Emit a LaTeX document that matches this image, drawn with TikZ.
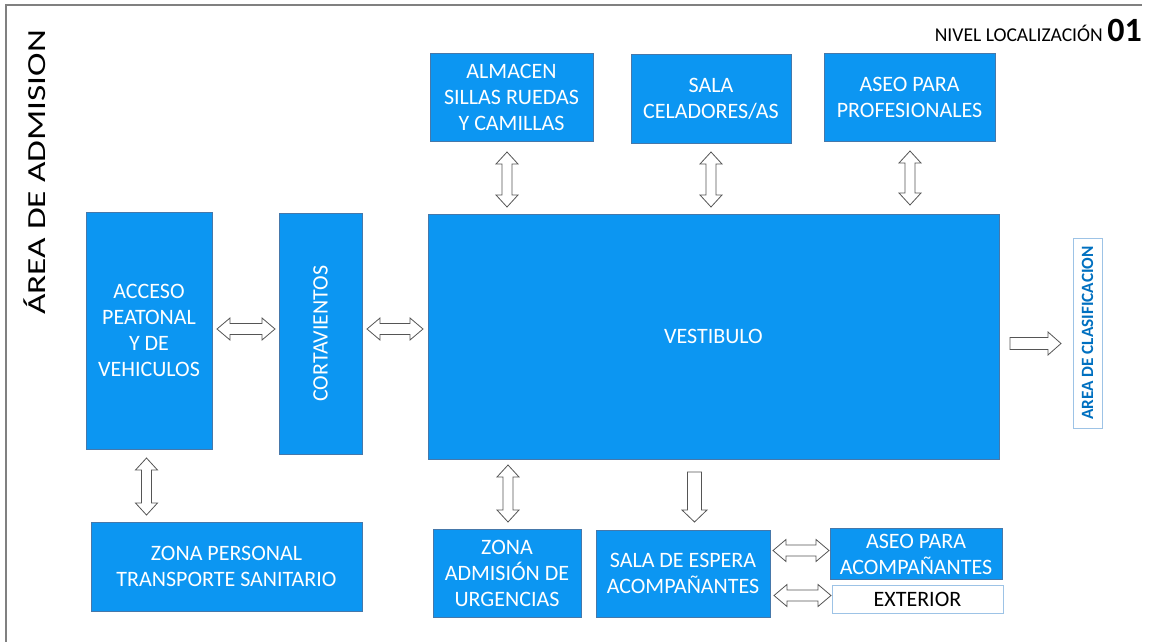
\documentclass[tikz,border=0pt]{standalone}
\usepackage{fontspec}
\setmainfont{Carlito}
\usetikzlibrary{calc}
\definecolor{boxblue}{RGB}{12,150,242}
\definecolor{boxedge}{RGB}{70,120,170}
\definecolor{lightedge}{RGB}{157,195,230}
\definecolor{clasblue}{RGB}{0,112,192}
\definecolor{arrowedge}{RGB}{85,85,85}
\definecolor{framegray}{RGB}{128,128,128}
\tikzset{
  bluebox/.style={draw=boxedge, line width=0.6pt, fill=boxblue, text=white, align=center,
    inner sep=0pt, outer sep=0pt, font=\fontsize{22}{26}\selectfont},
  whitebox/.style={draw=lightedge, line width=0.8pt, fill=white, align=center,
    inner sep=0pt, outer sep=0pt},
  blockarrow/.style={draw=arrowedge, fill=white, line width=0.8pt, line join=miter},
}
% horizontal double arrow: x1, x2, y
\newcommand\hdarr[3]{\draw[blockarrow] (#1,#3) -- (#1+13,#3-11) -- (#1+13,#3-5.5) -- (#2-13,#3-5.5) -- (#2-13,#3-11) -- (#2,#3) -- (#2-13,#3+11) -- (#2-13,#3+5.5) -- (#1+13,#3+5.5) -- (#1+13,#3+11) -- cycle;}
% vertical double arrow: x, y1, y2
\newcommand\vdarr[3]{\draw[blockarrow] (#1,#2) -- (#1+11,#2+12) -- (#1+5,#2+12) -- (#1+5,#3-12) -- (#1+11,#3-12) -- (#1,#3) -- (#1-11,#3-12) -- (#1-5,#3-12) -- (#1-5,#2+12) -- (#1-11,#2+12) -- cycle;}
\begin{document}
\begin{tikzpicture}[x=1pt,y=-1pt]
\useasboundingbox (0,0) rectangle (1149,642);
% frame
\draw[framegray, line width=1.5pt] (6,642) -- (6,5) -- (1142,5);
% titles
\node[rotate=90, anchor=base, inner sep=0pt, font=\fontsize{26}{30}\selectfont] (title) at (45,172.5) {\scalebox{1.36}[1]{ÁREA DE ADMISION}};
\node[anchor=base east, inner sep=0pt, font=\fontsize{19.6}{22}\selectfont] (nivel) at (1103,42) {NIVEL LOCALIZACIÓN};
\node[anchor=base east, inner sep=0pt, font=\fontsize{34}{38}\selectfont\bfseries] (num) at (1142,42) {01};
% boxes
\node[bluebox, minimum width=163, minimum height=88] (alm) at (511.5,97) {ALMACEN\\SILLAS RUEDAS\\Y CAMILLAS};
\node[bluebox, minimum width=160, minimum height=89] (sala) at (711,98.5) {SALA\\CELADORES/AS};
\node[bluebox, minimum width=171, minimum height=88] (aseop) at (909.5,97) {ASEO PARA\\PROFESIONALES};
\node[bluebox, minimum width=571, minimum height=245] (vest) at (713.5,336.5) {VESTIBULO};
\node[bluebox, minimum width=126, minimum height=237] (acc) at (149,330.5) {ACCESO\\PEATONAL\\Y DE\\VEHICULOS};
\node[bluebox, minimum width=83, minimum height=241] (cor) at (320.5,333.5) {\rotatebox{90}{CORTAVIENTOS}};
\node[bluebox, minimum width=271, minimum height=89] (zpt) at (226.5,566.5) {ZONA PERSONAL\\TRANSPORTE SANITARIO};
\node[bluebox, minimum width=148, minimum height=88] (zau) at (507,573) {ZONA\\ADMISIÓN DE\\URGENCIAS};
\node[bluebox, minimum width=174, minimum height=87] (sea) at (683,573.5) {SALA DE ESPERA\\ACOMPAÑANTES};
\node[bluebox, minimum width=172, minimum height=51] (asa) at (916,554) {ASEO PARA\\ACOMPAÑANTES};
\node[whitebox, minimum width=171, minimum height=28, font=\fontsize{22}{26}\selectfont] (ext) at (917.5,599) {EXTERIOR};
\node[whitebox, minimum width=29, minimum height=190, text=clasblue, font=\fontsize{17.2}{20}\selectfont\bfseries] (clas) at (1087.5,333) {\rotatebox{90}{AREA DE CLASIFICACION}};
% connectors (block arrows)
\hdarr{217}{275}{329}
\hdarr{367}{423}{329}
\vdarr{507}{152}{207}
\vdarr{711}{152}{207}
\vdarr{910}{151}{205}
\vdarr{146.5}{458}{515}
\vdarr{508}{465}{522}
\hdarr{773}{829}{550.5}
\hdarr{774}{831}{595.5}
% single down arrow
\draw[blockarrow] (687.5,472) -- (701.5,472) -- (701.5,510) -- (707,510) -- (694.5,522) -- (682,510) -- (687.5,510) -- cycle;
% single right arrow
\draw[blockarrow] (1010,337.5) -- (1048,337.5) -- (1048,332) -- (1061,343.5) -- (1048,355) -- (1048,349.5) -- (1010,349.5) -- cycle;
\end{tikzpicture}
\end{document}
